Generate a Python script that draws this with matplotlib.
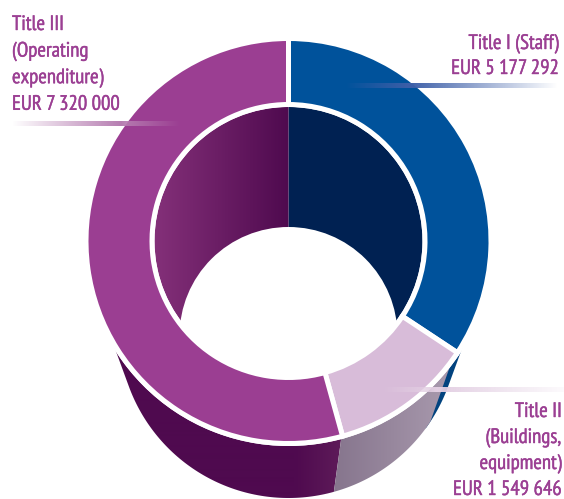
import numpy as np
import matplotlib
matplotlib.use("Agg")
import matplotlib.pyplot as plt
import matplotlib.patheffects as pe
from matplotlib.colors import LinearSegmentedColormap, to_rgb
from matplotlib.patches import Circle, Wedge, Polygon

W, H = 564, 499

# the printed amounts, and the shares the slices really take up in the picture (%)
categories = ["Title I", "Title II", "Title III"]
amounts = [5177292, 1549646, 7320000]
drawn_shares = [34.3, 11.4, 54.3]
ring_colors = ["#00529b", "#d8bcd9", "#9b3e92"]

label_lines = [
    ["Title I (Staff)", "EUR 5 177 292"],
    ["Title II", "(Buildings,", "equipment)", "EUR 1 549 646"],
    ["Title III", "(Operating", "expenditure)", "EUR 7 320 000"],
]
TEXT_COLOR = "#9b3f93"


def y_up(py):
    return H - py


def on_circle(cy, r, angle):
    # angle in degrees, clockwise from 12 o'clock, cy in image pixels
    a = np.radians(angle)
    return np.column_stack([CX + r * np.sin(a), y_up(cy) + r * np.cos(a)])


def gradient_patch(ax, patch, x0, x1, colors):
    # horizontal gradient x0..x1, flat colour on either side of it
    ax.add_patch(patch)
    patch.set_facecolor("none")
    patch.set_edgecolor("none")
    cmap = LinearSegmentedColormap.from_list("g", colors)
    xs = np.linspace(0, W, W)
    im = ax.imshow(np.clip((xs - x0) / (x1 - x0), 0, 1)[None, :], cmap=cmap, extent=(0, W, 0, H),
                   aspect="auto", zorder=patch.get_zorder(), interpolation="bilinear")
    im.set_clip_path(patch)


def fade_bar(ax, x0, x1, py, color, stops, zorder=8):
    rgba = np.zeros((1, 256, 4))
    rgba[..., :3] = to_rgb(color)
    rgba[..., 3] = np.interp(np.linspace(0, 1, 256), stops[0], stops[1])
    ax.imshow(rgba, extent=(x0, x1, y_up(py + 2.5), y_up(py - 2.5)), aspect="auto",
              zorder=zorder, interpolation="bilinear")


CX, TOP_CY, R = 288.5, 241, 200
LOW_CY, LOW_R = 328, 170
INNER_R, DARK_R = 139, 134
HOLE_CY, HOLE_R = 336, 109
TANGENT = 110

fig = plt.figure(figsize=(W / 100, H / 100), dpi=100)
ax = fig.add_axes([0, 0, 1, 1])

edges = np.cumsum([0] + drawn_shares) * 3.6
split_1, split_2 = edges[1], edges[2]


def wall(a0, a1):
    angles = np.linspace(a0, a1, 80)
    return np.vstack([on_circle(TOP_CY, R, angles), on_circle(LOW_CY, LOW_R, angles[::-1])])


# side wall of the drum, back to front
ax.add_patch(Polygon(wall(TANGENT, split_1 + 3), closed=True, fc="#02437f", ec="none", zorder=1))
gradient_patch(ax, Polygon(wall(split_2, 360 - TANGENT), closed=True, zorder=1), 295, 345,
               ["#4f0a4f", "#5f1c5a"])
gradient_patch(ax, Polygon(wall(split_1, split_2), closed=True, zorder=2), 330, 452,
               ["#85748c", "#a99aae"])

# white gap under the ring
ax.add_patch(Circle((CX, y_up(TOP_CY)), R + 5, fc="white", ec="none", zorder=3))

# inner face seen through the ring
ax.add_patch(Wedge((CX, y_up(TOP_CY)), DARK_R, -90, 90, fc="#002152", ec="none", zorder=4))
gradient_patch(ax, Wedge((CX, y_up(TOP_CY)), DARK_R, 90, 270, zorder=4), CX - DARK_R, CX,
               ["#843079", "#4f0a4f"])
ax.add_patch(Circle((CX, y_up(HOLE_CY)), HOLE_R, fc="white", ec="none", zorder=5))

# flat ring on top, the white edge makes the gaps between slices
wedges, _ = ax.pie(drawn_shares, colors=ring_colors, startangle=90, counterclock=False,
                   center=(CX, y_up(TOP_CY)), radius=R + 2.5, frame=True,
                   wedgeprops=dict(width=R + 2.5 - (INNER_R - 2.5), edgecolor="white", linewidth=3.6))
for w in wedges:
    w.set_zorder(6)

# fading rules under the labels
fade_bar(ax, 12, 180, 123, "#b67db1", ([0, 0.65, 1], [0.0, 1.0, 0.0]))
fade_bar(ax, 345, 558, 85, "#3d5fa8", ([0, 0.3, 1], [0.0, 1.0, 0.0]))
fade_bar(ax, 382, 564, 389, "#e3cfe3", ([0, 0.3, 1], [0.0, 1.0, 0.1]))

# labels
font = ["PT Sans Narrow", "Liberation Sans", "DejaVu Sans"]
placements = [(559, 49, 25, "right"), (562, 417, 26, "right"), (12, 30, 26.6, "left")]
for lines, (x, y0, step, ha) in zip(label_lines, placements):
    for i, line in enumerate(lines):
        t = ax.text(x, y_up(y0 + i * step), line, color=TEXT_COLOR, fontsize=15, ha=ha,
                    va="baseline", family=font, zorder=9)
        t.set_path_effects([pe.withStroke(linewidth=0.3, foreground=TEXT_COLOR)])

ax.set_xlim(0, W)
ax.set_ylim(0, H)
ax.set_aspect("auto")
ax.axis("off")
fig.savefig("out.png", dpi=100, facecolor="white")
